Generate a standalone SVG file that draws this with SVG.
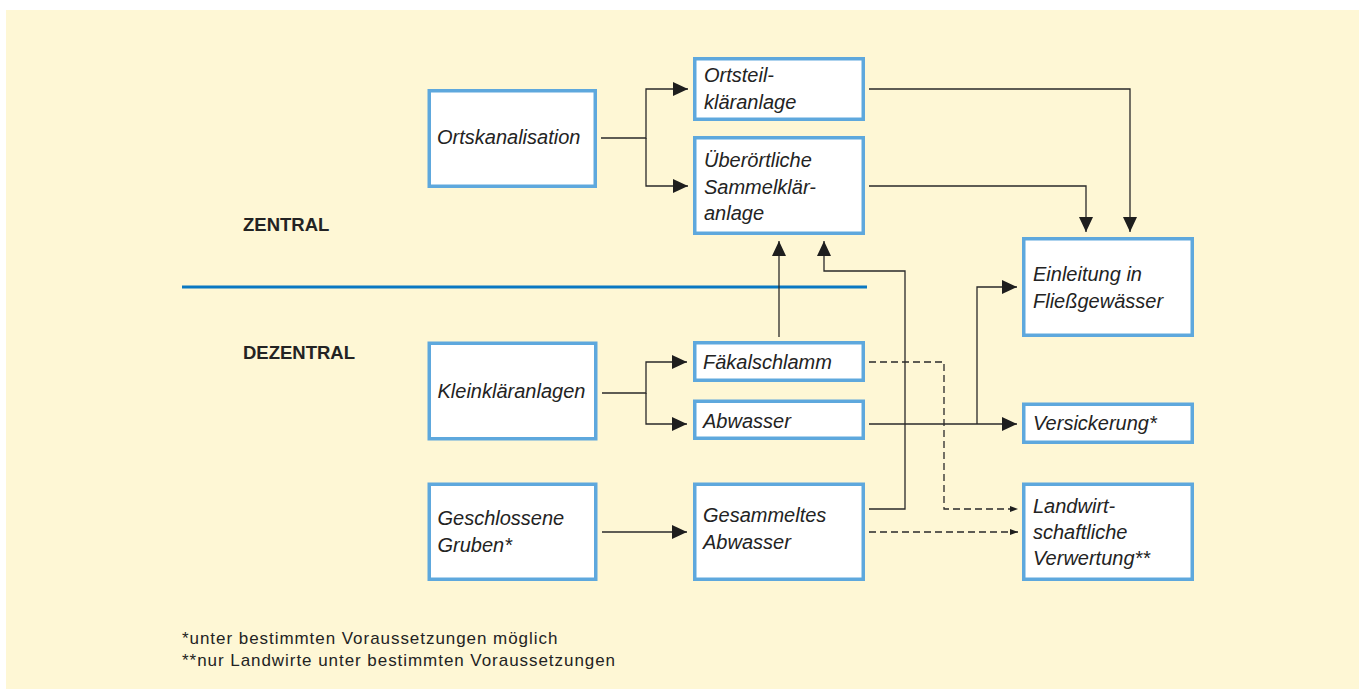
<svg xmlns="http://www.w3.org/2000/svg" width="1359" height="689" viewBox="0 0 1359 689">
<defs>
<style>
.box{fill:#fff;stroke:#5ea8dd;stroke-width:3.5}
.t{font-family:"Liberation Sans",Arial,sans-serif;font-style:italic;font-size:20px;fill:#232323}
.h{font-family:"Liberation Sans",Arial,sans-serif;font-weight:bold;font-size:18.5px;fill:#232323}
.f{font-family:"Liberation Sans",Arial,sans-serif;font-size:17px;letter-spacing:0.95px;fill:#232323}
.c{fill:none;stroke:#2a2a2a;stroke-width:1.3}
.d{fill:none;stroke:#2a2a2a;stroke-width:1.3;stroke-dasharray:7,4}
</style>
<marker id="a" markerUnits="userSpaceOnUse" markerWidth="15" markerHeight="14" refX="15" refY="7" orient="auto"><path d="M0,0 L15,7 L0,14 Z" fill="#1e1e1e"/></marker>
<marker id="s" markerUnits="userSpaceOnUse" markerWidth="8" markerHeight="6" refX="8" refY="3" orient="auto"><path d="M0,0 L8,3 L0,6 Z" fill="#1e1e1e"/></marker>
</defs>
<rect x="6" y="10" width="1353" height="679" fill="#fef7d5"/>
<line x1="182" y1="287" x2="867" y2="287" stroke="#0a78c2" stroke-width="3.2"/>
<text class="h" x="243" y="231">ZENTRAL</text>
<text class="h" x="243" y="359">DEZENTRAL</text>
<g id="connectors">
<path class="c" d="M601,138 H646 V89 H688" marker-end="url(#a)"/>
<path class="c" d="M646,138 V186 H688" marker-end="url(#a)"/>
<path class="c" d="M869,89 H1130 V232" marker-end="url(#a)"/>
<path class="c" d="M869,186 H1086 V232" marker-end="url(#a)"/>
<path class="c" d="M779,337 V241" marker-end="url(#a)"/>
<path class="c" d="M869,509 H905 V271 H824 V241" marker-end="url(#a)"/>
<path class="c" d="M602,393 H646 V362 H687" marker-end="url(#a)"/>
<path class="c" d="M646,393 V424 H687" marker-end="url(#a)"/>
<path class="c" d="M602,532 H687" marker-end="url(#a)"/>
<path class="c" d="M869,424 H1017" marker-end="url(#a)"/>
<path class="c" d="M977,424 V287 H1017" marker-end="url(#a)"/>
<path class="d" d="M869,362 H944 V509 H1018" marker-end="url(#s)"/>
<path class="d" d="M869,532 H1018" marker-end="url(#s)"/>
</g>
<g id="ortskanalisation"><rect class="box" x="429.25" y="90.75" width="166" height="95.5"/><text class="t" x="437" y="144">Ortskanalisation</text></g>
<g id="ortsteil"><rect class="box" x="694.75" y="58.75" width="168.5" height="60.5"/><text class="t" x="704" y="82">Ortsteil-</text><text class="t" x="704" y="109">kläranlage</text></g>
<g id="ueberoertlich"><rect class="box" x="694.75" y="137.75" width="168.5" height="95.5"/><text class="t" x="704" y="167">Überörtliche</text><text class="t" x="704" y="193.5">Sammelklär-</text><text class="t" x="704" y="220">anlage</text></g>
<g id="einleitung"><rect class="box" x="1023.75" y="238.75" width="168.5" height="96.5"/><text class="t" x="1033" y="281">Einleitung in</text><text class="t" x="1033" y="307.5">Fließgewässer</text></g>
<g id="faekal"><rect class="box" x="694.75" y="342.75" width="168.5" height="37.5"/><text class="t" x="703" y="369">Fäkalschlamm</text></g>
<g id="abwasser"><rect class="box" x="694.75" y="401.25" width="168.5" height="37"/><text class="t" x="703" y="427.5">Abwasser</text></g>
<g id="gesammelt"><rect class="box" x="694.75" y="484.25" width="168.5" height="95"/><text class="t" x="703" y="522">Gesammeltes</text><text class="t" x="703" y="548.5">Abwasser</text></g>
<g id="kleinklaer"><rect class="box" x="429.25" y="343.25" width="166.5" height="95.5"/><text class="t" x="437.5" y="398">Kleinkläranlagen</text></g>
<g id="gruben"><rect class="box" x="429.25" y="484.25" width="166.5" height="95"/><text class="t" x="437.5" y="524.5">Geschlossene</text><text class="t" x="437.5" y="551.5">Gruben*</text></g>
<g id="versickerung"><rect class="box" x="1023.75" y="404.25" width="168.5" height="38"/><text class="t" x="1033" y="429.5">Versickerung*</text></g>
<g id="landwirt"><rect class="box" x="1023.75" y="484.25" width="168.5" height="95"/><text class="t" x="1033" y="512.5">Landwirt-</text><text class="t" x="1033" y="538.5">schaftliche</text><text class="t" x="1033" y="564.5">Verwertung**</text></g>
<text class="f" x="182" y="644">*unter bestimmten Voraussetzungen möglich</text>
<text class="f" x="182" y="666">**nur Landwirte unter bestimmten Voraussetzungen</text>
</svg>
